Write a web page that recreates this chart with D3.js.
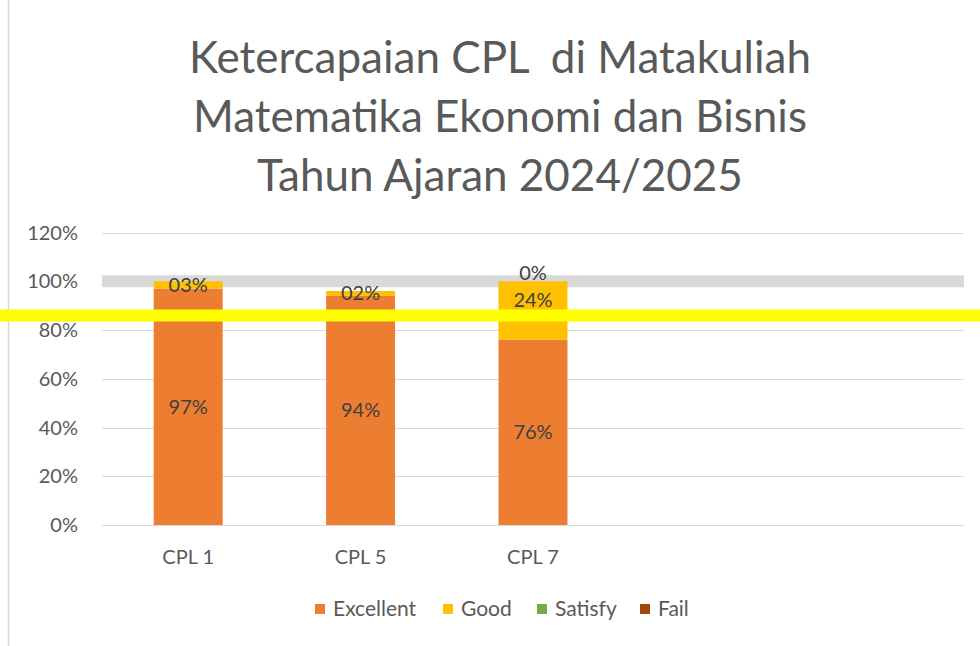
<!DOCTYPE html>
<html lang="id">
<head>
<meta charset="utf-8">
<title>Ketercapaian CPL</title>
<script src="https://cdn.jsdelivr.net/npm/d3@7"></script>
<style>
  body { margin: 0; background: #fff; }
  text { font-family: Lato, 'Noto Sans', sans-serif; fill: #595959; }
  .grid line { stroke: #d9d9d9; stroke-width: 1; }
  .lbl { fill: #404040; font-size: 20px; }
</style>
</head>
<body>
<div id="chart"></div>
<script>
// ---- data ----
var categories = ["CPL 1", "CPL 5", "CPL 7"];
var excellent  = [0.97, 0.94, 0.76];
var good       = [0.03, 0.02, 0.24];
var satisfy    = [null, null, 0];
var fail       = [null, null, null];
var seriesNames  = ["Excellent", "Good", "Satisfy", "Fail"];
var seriesColors = ["#ED7D31", "#FFC000", "#70AD47", "#9E480E"];
var yTicks = [0, 0.2, 0.4, 0.6, 0.8, 1.0, 1.2];
var targetLine = 0.86;
var titleLines = ["Ketercapaian CPL  di Matakuliah", "Matematika Ekonomi dan Bisnis", "Tahun Ajaran 2024/2025"];

var w = 980, h = 646;
var svg = d3.select("#chart").append("svg")
    .attr("width", w).attr("height", h);

// chart frame (left edge visible)
svg.append("line")
    .attr("x1", 8.5).attr("x2", 8.5).attr("y1", 0).attr("y2", h)
    .attr("stroke", "#d9d9d9").attr("stroke-width", 1.5);

// ---- title ----
svg.append("g").selectAll("text")
    .data(titleLines)
    .enter().append("text")
    .attr("x", 500)
    .attr("y", function(d, i) { return 73 + i * 59; })
    .attr("text-anchor", "middle")
    .style("font-size", "44px")
    .style("white-space", "pre")
    .text(function(d) { return d; });

// ---- scales ----
var x = d3.scaleBand()
    .domain(d3.range(5))
    .range([102, 964])
    .paddingInner(0.6)
    .paddingOuter(0.3);

var y = d3.scaleLinear()
    .domain([0, 1.2])
    .range([525, 232.5]);

// gridlines
var grid = svg.append("g").attr("class", "grid");
grid.selectAll("line")
    .data(yTicks.filter(function(t) { return t !== 1.0; }))
    .enter().append("line")
    .attr("x1", 102).attr("x2", 964)
    .attr("y1", function(d) { return Math.round(y(d)) + 0.5; })
    .attr("y2", function(d) { return Math.round(y(d)) + 0.5; });

// highlighted 100% line
svg.append("line")
    .attr("x1", 102).attr("x2", 964)
    .attr("y1", y(1.0)).attr("y2", y(1.0))
    .attr("stroke", "#d9d9d9").attr("stroke-width", 12);

// y tick labels
svg.append("g").selectAll("text")
    .data(yTicks)
    .enter().append("text")
    .attr("x", 78)
    .attr("y", function(d) { return y(d); })
    .attr("dy", "0.35em")
    .attr("text-anchor", "end")
    .style("font-size", "20px")
    .text(d3.format(".0%"));

// ---- stacked bars ----
var rows = categories.map(function(c, i) {
  return { cat: c, i: i, vals: [excellent[i], good[i], satisfy[i], fail[i]] };
});

var segs = [];
rows.forEach(function(r) {
  var base = 0;
  r.vals.forEach(function(v, k) {
    if (v === null) return;
    segs.push({ i: r.i, k: k, y0: base, y1: base + v, v: v });
    base += v;
  });
});

svg.append("g").selectAll("rect")
    .data(segs)
    .enter().append("rect")
    .attr("x", function(d) { return x(d.i); })
    .attr("width", x.bandwidth())
    .attr("y", function(d) { return y(d.y1); })
    .attr("height", function(d) { return y(d.y0) - y(d.y1); })
    .attr("fill", function(d) { return seriesColors[d.k]; });

// category labels
svg.append("g").selectAll("text")
    .data(categories)
    .enter().append("text")
    .attr("x", function(d, i) { return x(i) + x.bandwidth() / 2; })
    .attr("y", 557)
    .attr("dy", "0.35em")
    .attr("text-anchor", "middle")
    .style("font-size", "20px")
    .text(function(d) { return d; });

// target line
svg.append("line")
    .attr("x1", 0).attr("x2", w)
    .attr("y1", y(targetLine)).attr("y2", y(targetLine))
    .attr("stroke", "#FFFF00").attr("stroke-width", 12);

// data labels (on top)
var fmt = function(d) {
  if (d.k === 1) return ("0" + Math.round(d.v * 100)).slice(-2) + "%";
  return d3.format(".0%")(d.v);
};
svg.append("g").selectAll("text")
    .data(segs)
    .enter().append("text")
    .attr("class", "lbl")
    .attr("x", function(d) { return x(d.i) + x.bandwidth() / 2; })
    .attr("y", function(d) {
      var mid = (y(d.y0) + y(d.y1)) / 2;
      // keep the Good label of CPL 7 clear of the target line
      if (d.k === 1 && d.v > 0.1) return mid - 11;
      // zero-height segment: lift its label above the bar top
      if (d.v === 0) return mid - 8;
      return mid;
    })
    .attr("dy", "0.35em")
    .attr("text-anchor", "middle")
    .text(fmt);

// ---- legend ----
var legX = [315, 443, 537, 640];
var leg = svg.append("g").selectAll("g")
    .data(seriesNames)
    .enter().append("g")
    .attr("transform", function(d, i) { return "translate(" + legX[i] + ",609)"; });
leg.append("rect")
    .attr("x", 0).attr("y", -5).attr("width", 10).attr("height", 10)
    .attr("fill", function(d, i) { return seriesColors[i]; });
leg.append("text")
    .attr("x", 18).attr("dy", "0.35em")
    .style("font-size", "21px")
    .text(function(d) { return d; });
</script>
</body>
</html>
